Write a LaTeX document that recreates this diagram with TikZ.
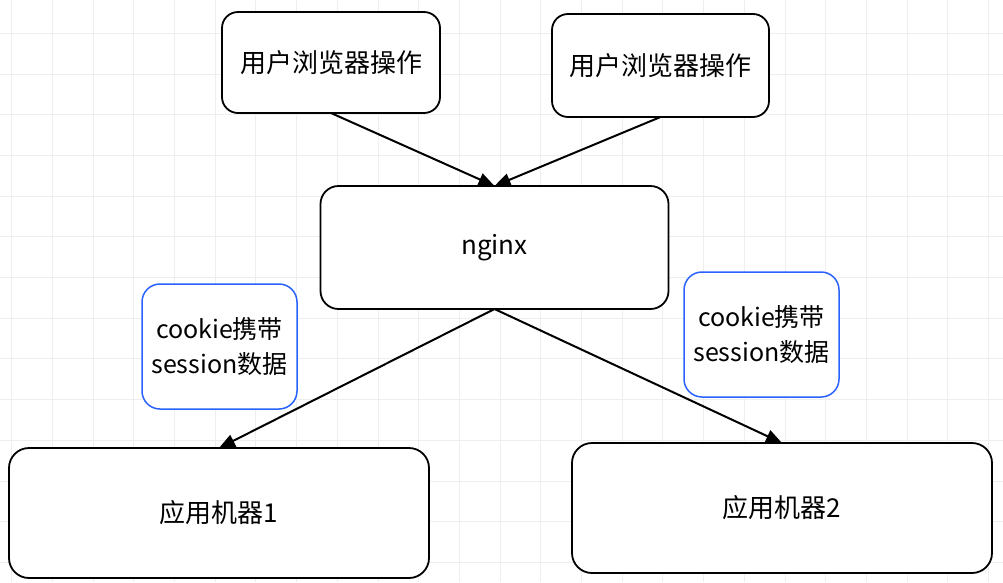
\documentclass[tikz,border=0pt]{standalone}
\usepackage{fontspec}
\setmainfont{Noto Sans CJK SC}
\usepackage{xcolor}
\usepackage{tikz}
\usetikzlibrary{positioning,arrows.meta}
\definecolor{noteblue}{RGB}{41,98,255}
\definecolor{gridgray}{RGB}{238,238,238}

\begin{document}
\begin{tikzpicture}[x=1pt, y=-1pt,
    block/.style={rectangle, draw, line width=1.8pt, rounded corners=18pt, fill=white, inner sep=0pt, outer sep=0pt, font=\fontsize{26}{35}\selectfont, align=center},
    note/.style={block, draw=noteblue, line width=1.5pt, font=\fontsize{25}{35}\selectfont},
    gridline/.style={gridgray, line width=1pt},
    arrow/.style={line width=2pt, -{Triangle[length=16pt,width=13pt]}}]

    \useasboundingbox[fill=white] (0,0) rectangle (1003,582);
    % grid
    \foreach \i in {0,...,24}
        \draw[gridline] ({11.7+40.7*\i},0) -- ({11.7+40.7*\i},582);
    \foreach \j in {0,...,13}
        \draw[gridline] (0,{33.3+40.7*\j}) -- (1003,{33.3+40.7*\j});

    \node[block, minimum width=218pt, minimum height=101pt, rounded corners=16pt] (user1) at (331,62.5) {用户浏览器操作};
    \node[block, minimum width=217pt, minimum height=103pt, rounded corners=16pt] (user2) at (660.5,65.5) {用户浏览器操作};
    \node[block, minimum width=348pt, minimum height=123pt] (nginx) at (494.5,247.5) {nginx};
    \node[note, minimum width=155pt, minimum height=125pt] (note1) at (219.5,346.5) {cookie携带\\session数据};
    \node[note, minimum width=155pt, minimum height=125pt] (note2) at (761.5,334.5) {cookie携带\\session数据};
    \node[block, minimum width=420pt, minimum height=130pt, rounded corners=20pt] (app1) at (219,513) {应用机器1};
    \node[block, minimum width=420pt, minimum height=130pt, rounded corners=20pt] (app2) at (782,508) {应用机器2};

    \draw[arrow] (user1.south) -- (nginx.north);
    \draw[arrow] (user2.south) -- (nginx.north);
    \draw[arrow] (nginx.south) -- (app1.north);
    \draw[arrow] (nginx.south) -- (app2.north);

\end{tikzpicture}
\end{document}
